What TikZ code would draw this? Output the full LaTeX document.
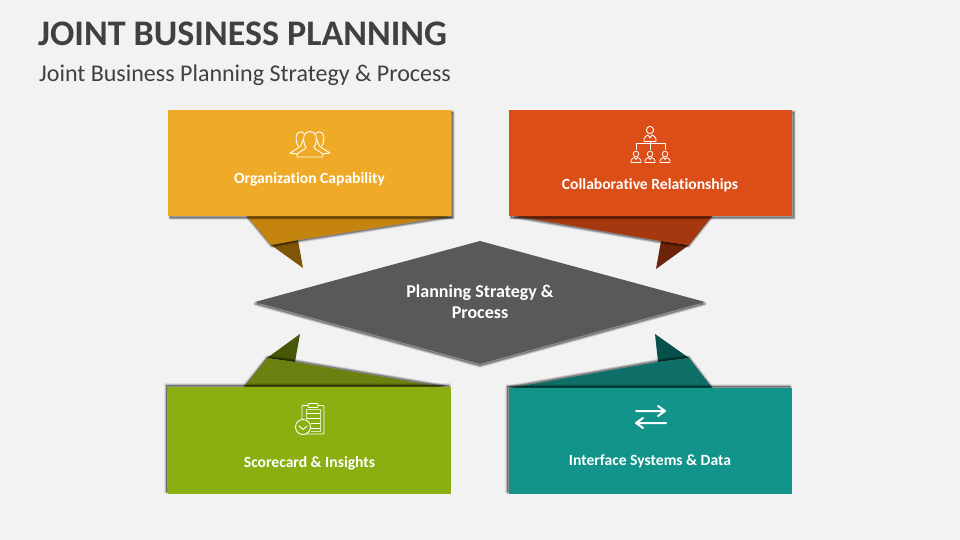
\documentclass[tikz,border=0pt]{standalone}
\usepackage{fontspec}
\setmainfont[Ligatures=NoCommon]{Carlito}
\newfontfamily\labelfont[Ligatures=NoCommon]{Carlito}
\definecolor{pagebg}{HTML}{F2F2F2}
\definecolor{titlegray}{HTML}{404040}
\definecolor{diamondgray}{HTML}{595959}
\definecolor{ambA}{HTML}{EFAB27}\definecolor{ambB}{HTML}{C5840F}\definecolor{ambC}{HTML}{7F5507}
\definecolor{redA}{HTML}{DB4E18}\definecolor{redB}{HTML}{A63810}\definecolor{redC}{HTML}{6B2409}
\definecolor{grnA}{HTML}{8BAE10}\definecolor{grnB}{HTML}{6A800F}\definecolor{grnC}{HTML}{465808}
\definecolor{tealA}{HTML}{12948A}\definecolor{tealB}{HTML}{0D6F68}\definecolor{tealC}{HTML}{07504B}
\tikzset{
  boxnode/.style={rectangle,inner sep=0pt,minimum width=283pt,anchor=north west},
  lbl/.style={text=white,font=\labelfont\bfseries\fontsize{15.6}{18}\selectfont,inner sep=0pt},
  icon/.style={draw=white,line width=0.9pt,line join=round,line cap=round},
}
% soft shadow: dx dy path
\newcommand{\softshadow}[3]{%
  \begin{scope}[shift={(#1,#2)}]
    \foreach \w in {3.6,2.8,2,1.2,0.4}{
      \path[draw=black,line width=\w pt,opacity=0.08,line join=round] #3;
    }
    \path[fill=black,opacity=0.3] #3;
  \end{scope}}
\begin{document}
\begin{tikzpicture}[x=1pt,y=-1pt]
\useasboundingbox (0,0) rectangle (960,540);
\fill[pagebg] (0,0) rectangle (960,540);

\node[anchor=base west,inner sep=0pt,text=titlegray,font=\bfseries\fontsize{36}{40}\selectfont] (title) at (38,46) {JOINT BUSINESS PLANNING};
\node[anchor=base west,inner sep=0pt,text=titlegray,font=\fontsize{24}{28}\selectfont] (subtitle) at (39,81.5) {Joint Business Planning Strategy \& Process};

% centre diamond
\softshadow{0}{1.9}{(255,302)--(480,241)--(705,302)--(480,364)--cycle}
\fill[diamondgray] (255,302)--(480,241)--(705,302)--(480,364)--cycle;
\node[lbl,align=center,font=\labelfont\bfseries\fontsize{18}{21}\selectfont] (centre) at (480,302) {Planning Strategy \&\\Process};

% top-left
\fill[ambC] (271,245)--(298,240)--(303,268)--cycle;
\softshadow{0.6}{1.2}{(247,216)--(271,245)--(298,240)--(451,216)--cycle}
\fill[ambB] (247,216)--(271,245)--(298,240)--(451,216)--cycle;
\softshadow{1.9}{1.9}{(168,110) rectangle (451,216)}
\node[boxnode,fill=ambA,minimum height=106pt] (org) at (168,110) {};
\node[lbl] (orgl) at (309.5,179) {Organization Capability};

% top-right
\fill[redC] (661,241)--(689,245)--(656,269)--cycle;
\softshadow{-0.6}{1.2}{(515,216)--(661,241)--(689,245)--(712,216)--cycle}
\fill[redB] (515,216)--(661,241)--(689,245)--(712,216)--cycle;
\softshadow{1.9}{1.9}{(509,110) rectangle (792,216)}
\node[boxnode,fill=redA,minimum height=106pt] (col) at (509,110) {};
\node[lbl] (coll) at (650,185) {Collaborative Relationships};

% bottom-left
\fill[grnC] (267,358)--(295,362)--(300,334)--cycle;
\softshadow{0.6}{-1.2}{(244,387)--(267,358)--(295,362)--(443,387)--cycle}
\fill[grnB] (244,387)--(267,358)--(295,362)--(443,387)--cycle;
\softshadow{-1.9}{-1.9}{(168,387) rectangle (451,494)}
\node[boxnode,fill=grnA,minimum height=107pt] (sco) at (168,387) {};
\node[lbl] (scol) at (309.5,463) {Scorecard \& Insights};

% bottom-right
\fill[tealC] (658,362)--(689,358)--(655,334)--cycle;
\softshadow{-0.6}{-1.2}{(510,388)--(658,362)--(689,358)--(712,388)--cycle}
\fill[tealB] (510,388)--(658,362)--(689,358)--(712,388)--cycle;
\softshadow{-1.9}{-1.9}{(509,388) rectangle (792,494)}
\node[boxnode,fill=tealA,minimum height=106pt] (int) at (509,388) {};
\node[lbl] (intl) at (650,461) {Interface Systems \& Data};

% icon: people
\draw[icon] (303,140) .. controls (301,146) and (300,147) .. (298,148) -- (290,153) -- (297,154);
\draw[icon] (317,140) .. controls (319,146) and (320,147) .. (322,148) -- (330,153) -- (323,154);
\draw[icon] (304,133.5) .. controls (302,131) and (299,131.5) .. (297,134) .. controls (295.5,137) and (296,142) .. (298,146);
\draw[icon] (316,133.5) .. controls (318,131) and (321,131.5) .. (323,134) .. controls (324.5,137) and (324,142) .. (322,146);
\draw[icon] (297,157) -- (297,154.5) .. controls (298,152) and (305,150) .. (306,147.5) .. controls (304,144) and (303,140) .. (304,136) .. controls (305,130) and (315,130) .. (316,136) .. controls (317,140) and (316,144) .. (314,147.5) .. controls (315,150) and (322,152) .. (323,154.5) -- (323,157) -- cycle;

% icon: org chart
\draw[icon] (650,130) circle[radius=3.6];
\draw[icon] (644,141.5) -- (644,139) .. controls (644,136.5) and (647,136) .. (648,135) -- (650,138) -- (652,135) .. controls (653,136) and (656,136.5) .. (656,139) -- (656,141.5) -- cycle;
\draw[icon] (650,141.5) -- (650,149.5) (636,149.5) -- (636,143.5) -- (665,143.5) -- (665,149.5);
\foreach \cx in {636,650,665}{
  \draw[icon,line width=0.8pt] (\cx,154) circle[radius=2.8];
  \draw[icon,line width=0.8pt] (\cx-5,162.5) -- (\cx-5,160.5) .. controls (\cx-5,158.5) and (\cx-2.5,158.5) .. (\cx-1.5,157.5) -- (\cx,159.5) -- (\cx+1.5,157.5) .. controls (\cx+2.5,158.5) and (\cx+5,158.5) .. (\cx+5,160.5) -- (\cx+5,162.5) -- cycle;
}

% icon: clipboard
\draw[icon,rounded corners=1pt] (302,420) -- (302,405.5) -- (324,405.5) -- (324,434) -- (306,434);
\draw[icon,line width=0.5pt,white!70!grnA] (306,419) -- (306,409) -- (320.5,409) -- (320.5,431) -- (311,431);
\draw[icon,fill=grnA,rounded corners=1pt] (308,403.5) rectangle (318,407.5);
\foreach \ly/\lx in {413/307,418/307,423/311,428/311}{
  \draw[icon,line width=0.7pt] (\lx,\ly) -- (320,\ly);
}
\draw[icon,fill=grnA] (303,427) circle[radius=7.5];
\draw[icon] (299,426) -- (303,429.5) -- (307,426);

% icon: arrows
\draw[icon,line width=2pt] (636,411) -- (665,411) (658,406) -- (665,411) -- (658,416);
\draw[icon,line width=2pt] (666,423) -- (636,423) (643,418) -- (636,423) -- (643,428);
\end{tikzpicture}
\end{document}
